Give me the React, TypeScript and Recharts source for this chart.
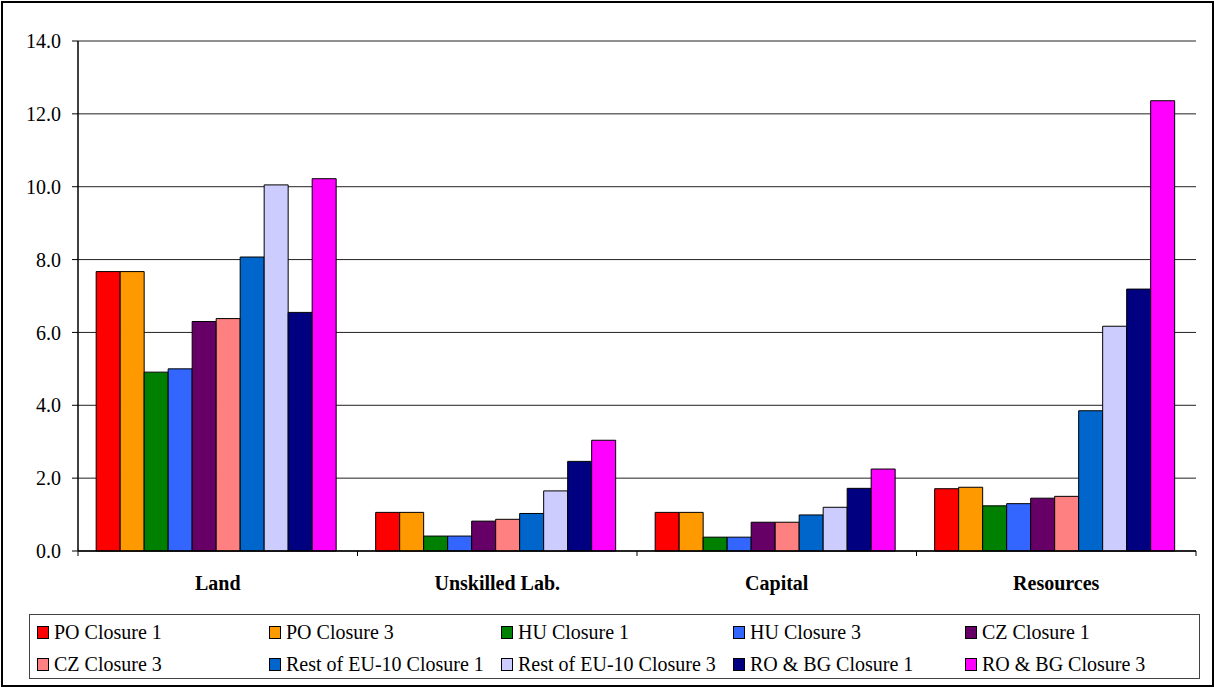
import React from "react";
import {
  BarChart,
  Bar,
  XAxis,
  YAxis,
  CartesianGrid,
} from "recharts";

const categories = ["Land", "Unskilled Lab.", "Capital", "Resources"];

const seriesNames = [
  "PO Closure 1",
  "PO Closure 3",
  "HU Closure 1",
  "HU Closure 3",
  "CZ Closure 1",
  "CZ Closure 3",
  "Rest of EU-10 Closure 1",
  "Rest of EU-10 Closure 3",
  "RO & BG Closure 1",
  "RO & BG Closure 3",
];

const poClosure1 = [7.67, 1.06, 1.06, 1.71];
const poClosure3 = [7.67, 1.06, 1.06, 1.75];
const huClosure1 = [4.91, 0.41, 0.38, 1.24];
const huClosure3 = [5.0, 0.41, 0.38, 1.3];
const czClosure1 = [6.3, 0.82, 0.79, 1.45];
const czClosure3 = [6.38, 0.87, 0.79, 1.5];
const restClosure1 = [8.07, 1.03, 0.99, 3.85];
const restClosure3 = [10.05, 1.65, 1.2, 6.17];
const robgClosure1 = [6.55, 2.46, 1.72, 7.19];
const robgClosure3 = [10.22, 3.04, 2.25, 12.36];

const yTicks = [0, 2, 4, 6, 8, 10, 12, 14];
const groupBounds = [0, 1, 2, 3, 4];

const COLORS = [
  "#ff0000",
  "#ff9900",
  "#008000",
  "#3366ff",
  "#660066",
  "#ff8080",
  "#0066cc",
  "#ccccff",
  "#000080",
  "#ff00ff",
];

const allSeries = [
  poClosure1,
  poClosure3,
  huClosure1,
  huClosure3,
  czClosure1,
  czClosure3,
  restClosure1,
  restClosure3,
  robgClosure1,
  robgClosure3,
];

const data = categories.map((name, i) => {
  const row: Record<string, string | number> = { name, idx: i + 0.5 };
  seriesNames.forEach((s, j) => {
    row[s] = allSeries[j][i];
  });
  return row;
});

const FONT = "'Liberation Serif', 'Times New Roman', serif";

export default function App() {
  return (
    <div
      style={{
        position: "absolute",
        left: 0,
        top: 0,
        width: 1214,
        height: 687,
        background: "#fff",
        fontFamily: FONT,
      }}
    >
      {/* outer frame */}
      <div
        style={{
          position: "absolute",
          left: 1,
          top: 1,
          width: 1209,
          height: 682,
          border: "2px solid #000",
        }}
      />

      <div style={{ position: "absolute", left: 0, top: 0 }}>
        <BarChart
          width={1214}
          height={600}
          data={data}
          margin={{ top: 41, right: 18, left: 8, bottom: 9 }}
          barCategoryGap="6.5%"
          barGap={0}
        >
          <CartesianGrid
            horizontal={true}
            vertical={false}
            stroke="#222"
            strokeWidth={1}
          />
          <XAxis
            dataKey="name"
            height={38}
            axisLine={{ stroke: "#000", strokeWidth: 1.5 }}
            tickLine={false}
            tickMargin={19}
            tick={{
              fill: "#000",
              fontSize: 20,
              fontWeight: "bold",
              fontFamily: FONT,
            }}
          />
          <XAxis
            xAxisId="bounds"
            dataKey="idx"
            type="number"
            domain={[0, 4]}
            ticks={groupBounds}
            height={2}
            axisLine={false}
            tickLine={false}
            tick={(p: any) => (
              <line
                x1={p.x}
                x2={p.x}
                y1={551}
                y2={556}
                stroke="#000"
                strokeWidth={1}
              />
            )}
          />
          <YAxis
            domain={[0, 14]}
            ticks={yTicks}
            width={70}
            interval={0}
            axisLine={{ stroke: "#000", strokeWidth: 1.5 }}
            tickLine={{ stroke: "#000" }}
            tickSize={6}
            tickMargin={11}
            tickFormatter={(v: number) => v.toFixed(1)}
            tick={{ fill: "#000", fontSize: 20, fontFamily: FONT }}
          />
          <YAxis
            yAxisId="right"
            orientation="right"
            domain={[0, 14]}
            width={0}
            tick={false}
            tickLine={false}
            axisLine={{ stroke: "#000", strokeWidth: 1.5 }}
          />
          {seriesNames.map((s, j) => (
            <Bar
              key={s}
              dataKey={s}
              fill={COLORS[j]}
              stroke="#000"
              strokeWidth={1}
              isAnimationActive={false}
            />
          ))}
        </BarChart>
      </div>

      {/* legend */}
      <div
        style={{
          position: "absolute",
          left: 29,
          top: 614,
          width: 1171,
          height: 65,
          border: "1px solid #444",
          boxSizing: "border-box",
          display: "grid",
          gridTemplateColumns: "repeat(5, 232px)",
          gridTemplateRows: "22px 22px",
          rowGap: 10,
          padding: "6px 0 0 7px",
          fontSize: 20,
          lineHeight: "22px",
          color: "#000",
          fontFamily: FONT,
        }}
      >
        {seriesNames.map((s, j) => (
          <div
            key={s}
            style={{
              display: "flex",
              alignItems: "center",
              whiteSpace: "nowrap",
            }}
          >
            <span
              style={{
                display: "inline-block",
                width: 10,
                height: 11,
                background: COLORS[j],
                border: "1px solid #000",
                marginRight: 5,
                flexShrink: 0,
              }}
            />
            {s}
          </div>
        ))}
      </div>
    </div>
  );
}
